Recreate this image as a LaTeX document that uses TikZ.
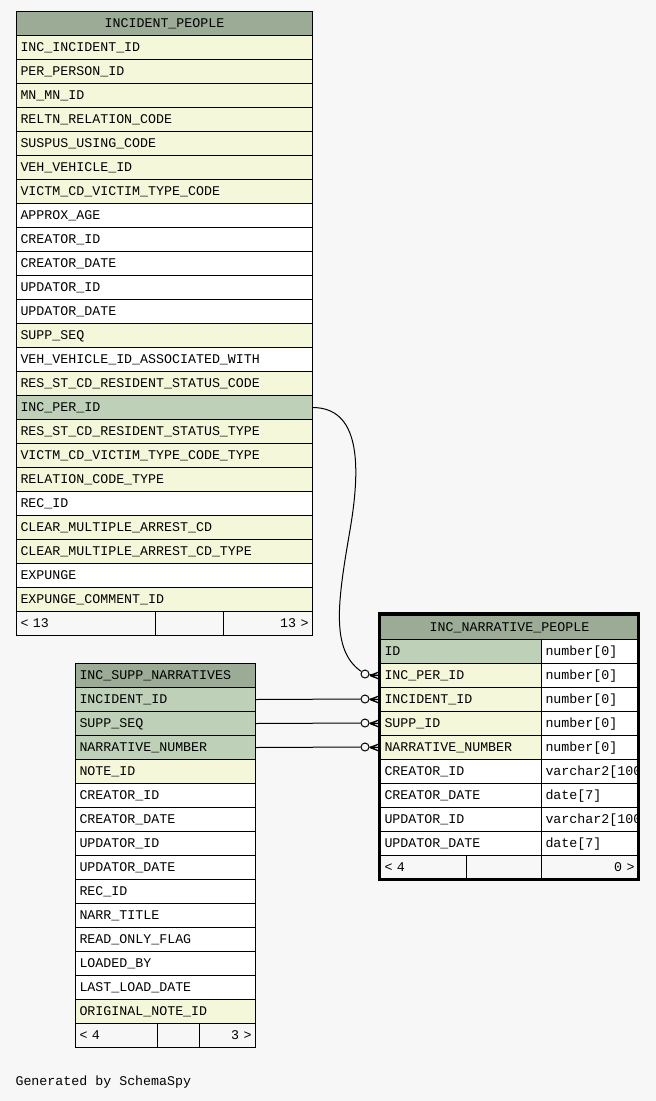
\documentclass[tikz,border=0pt]{standalone}
\usepackage{fontspec}
\setmonofont{Liberation Mono}
\definecolor{bodybg}{HTML}{F7F7F7}
\definecolor{headbg}{HTML}{9BAB96}
\definecolor{keybg}{HTML}{BED1B8}
\definecolor{idxbg}{HTML}{F4F7DA}
\begin{document}
\begin{tikzpicture}
      [x=1pt,y=-1pt,
       font=\ttfamily\fontsize{13.3}{16}\selectfont,
       cell/.style={draw,line width=1pt,anchor=north west,minimum height=24pt,
         inner xsep=4pt,inner ysep=0pt,text height=9pt,text depth=2pt,align=left},
       key/.style={fill=keybg},
       idx/.style={fill=idxbg},
       plain/.style={fill=white},
       foot/.style={fill=bodybg},
       head/.style={fill=headbg},
       crow/.pic={\draw[line width=1.3pt] (-10,0) -- (-1,-3.5) (-10,0) -- (0,0) (-10,0) -- (-1,3.5);}]
      \tikzstyle{ipcell}=[cell,text width=288pt]
      \tikzstyle{sncell}=[cell,text width=172pt]
      \tikzstyle{npname}=[cell,text width=153pt]
      \tikzstyle{nptype}=[cell,text width=89pt]
      \tikzstyle{ring}=[circle,draw,line width=1pt,fill=bodybg,inner sep=0pt,minimum size=8pt]
      \tikzstyle{link}=[line width=1pt]
      \fill[bodybg] (0,0) rectangle (656,1101);
      \node[ipcell,head,align=center] (iphead) at (16,11) {INCIDENT\_PEOPLE};
      \foreach \t/\c [count=\i] in {
        INC\_INCIDENT\_ID/idx, PER\_PERSON\_ID/idx, MN\_MN\_ID/idx,
        RELTN\_RELATION\_CODE/idx, SUSPUS\_USING\_CODE/idx, VEH\_VEHICLE\_ID/idx,
        VICTM\_CD\_VICTIM\_TYPE\_CODE/idx, APPROX\_AGE/plain, CREATOR\_ID/plain,
        CREATOR\_DATE/plain, UPDATOR\_ID/plain, UPDATOR\_DATE/plain, SUPP\_SEQ/idx,
        VEH\_VEHICLE\_ID\_ASSOCIATED\_WITH/plain, RES\_ST\_CD\_RESIDENT\_STATUS\_CODE/idx,
        INC\_PER\_ID/key, RES\_ST\_CD\_RESIDENT\_STATUS\_TYPE/idx,
        VICTM\_CD\_VICTIM\_TYPE\_CODE\_TYPE/idx, RELATION\_CODE\_TYPE/idx, REC\_ID/plain,
        CLEAR\_MULTIPLE\_ARREST\_CD/idx, CLEAR\_MULTIPLE\_ARREST\_CD\_TYPE/idx,
        EXPUNGE/plain, EXPUNGE\_COMMENT\_ID/idx}
        \node[ipcell,\c] (ip\i) at (16,11+24*\i) {\t};
      \node[cell,foot,text width=131pt] (ipfl) at (16,611) {< 13};
      \node[cell,foot,text width=60pt] (ipfm) at (155,611) {};
      \node[cell,foot,text width=81pt,align=right] (ipfr) at (223,611) {13 >};

      \node[sncell,head] (snhead) at (75,663) {INC\_SUPP\_NARRATIVES};
      \foreach \t/\c [count=\i] in {
        INCIDENT\_ID/key, SUPP\_SEQ/key, NARRATIVE\_NUMBER/key, NOTE\_ID/idx,
        CREATOR\_ID/plain, CREATOR\_DATE/plain, UPDATOR\_ID/plain, UPDATOR\_DATE/plain,
        REC\_ID/plain, NARR\_TITLE/plain, READ\_ONLY\_FLAG/plain, LOADED\_BY/plain,
        LAST\_LOAD\_DATE/plain, ORIGINAL\_NOTE\_ID/idx}
        \node[sncell,\c] (sn\i) at (75,663+24*\i) {\t};
      \node[cell,foot,text width=74pt] (snfl) at (75,1023) {< 4};
      \node[cell,foot,text width=34pt] (snfm) at (157,1023) {};
      \node[cell,foot,text width=48pt,align=right] (snfr) at (199,1023) {3 >};

      \node[cell,head,text width=250pt,align=center] (nphead) at (380,615) {INC\_NARRATIVE\_PEOPLE};
      \foreach \t/\c [count=\i] in {
        ID/key, INC\_PER\_ID/idx, INCIDENT\_ID/idx, SUPP\_ID/idx, NARRATIVE\_NUMBER/idx,
        CREATOR\_ID/plain, CREATOR\_DATE/plain, UPDATOR\_ID/plain, UPDATOR\_DATE/plain}
        \node[npname,\c] (np\i) at (380,615+24*\i) {\t};
      \begin{scope}
        \clip (540,639) rectangle (638,855);
        \foreach \t [count=\i] in {number[0], number[0], number[0], number[0], number[0],
          varchar2[100], date[7], varchar2[100], date[7]}
          \node[nptype,plain] (nt\i) at (541,615+24*\i) {\t};
      \end{scope}
      \node[cell,foot,text width=78pt] (npfl) at (380,855) {< 4};
      \node[cell,foot,text width=67pt] (npfm) at (466,855) {};
      \node[cell,foot,text width=89pt,align=right] (npfr) at (541,855) {0 >};
      \draw[line width=3pt] (379,613.5) rectangle (638.5,879.5);

      \node[ring] (r1) at (365,674) {};
      \node[ring] (r2) at (365,699) {};
      \node[ring] (r3) at (365,723) {};
      \node[ring] (r4) at (365,747) {};
      \draw[link] (ip16.east) .. controls (358,408) and (362,460) .. (350,530)
        .. controls (338,600) and (330,650) .. (r1);
      \draw[link] (sn1.east) -- (r2);
      \draw[link] (sn2.east) -- (r3);
      \draw[link] (sn3.east) -- (r4);
      \draw[link] (r1) -- (np2.west) pic at (np2.west) {crow};
      \draw[link] (r2) -- (np3.west) pic at (np3.west) {crow};
      \draw[link] (r3) -- (np4.west) pic at (np4.west) {crow};
      \draw[link] (r4) -- (np5.west) pic at (np5.west) {crow};

      \node[anchor=west] (gen) at (12,1082) {Generated by SchemaSpy};
    \end{tikzpicture}
\end{document}
